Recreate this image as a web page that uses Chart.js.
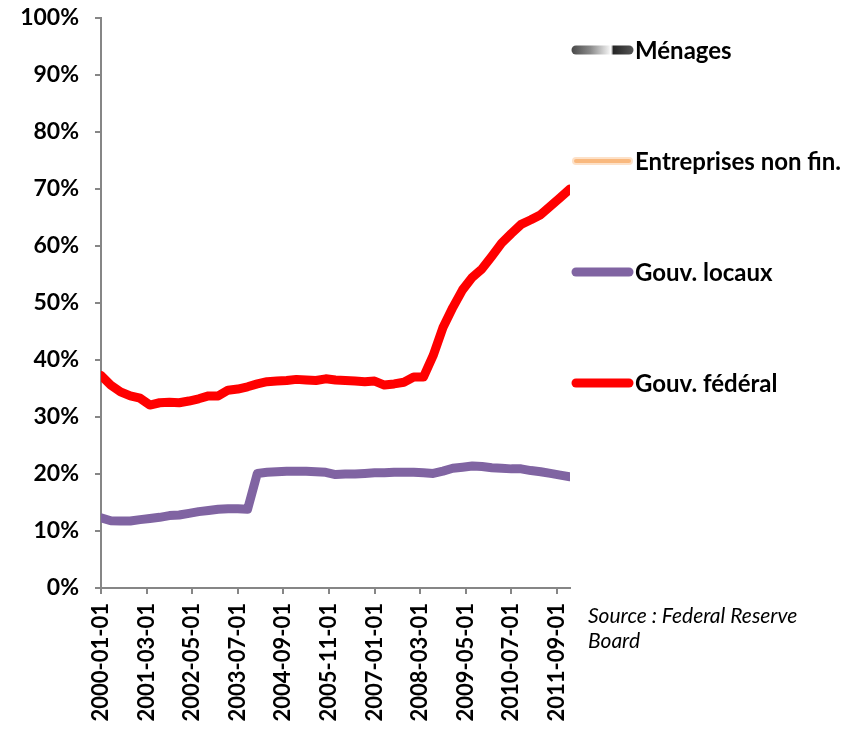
<!DOCTYPE html>
<html lang="fr">
<head>
    <meta charset="UTF-8">
    <title>Dette par secteur</title>
    <style>
        body {
            margin: 0;
            background-color: #fff;
        }
        .wrap {
            position: relative;
            width: 865px;
            height: 729px;
        }
        #source {
            position: absolute;
            left: 588px;
            top: 602px;
            font-family: Lato, sans-serif;
            font-style: italic;
            font-size: 21px;
            line-height: 25px;
            color: #000;
        }
    </style>
</head>
<body>
    <div class="wrap">
        <canvas id="chartCanvas" width="865" height="729"></canvas>
        <div id="source">Source : Federal Reserve<br>Board</div>
    </div>
    <script src="https://cdn.jsdelivr.net/npm/chart.js"></script>
    <script>
        // dates trimestrielles
        const quarters = [
            '2000-01-01', '2000-04-01', '2000-07-01', '2000-10-01',
            '2001-01-01', '2001-04-01', '2001-07-01', '2001-10-01',
            '2002-01-01', '2002-04-01', '2002-07-01', '2002-10-01',
            '2003-01-01', '2003-04-01', '2003-07-01', '2003-10-01',
            '2004-01-01', '2004-04-01', '2004-07-01', '2004-10-01',
            '2005-01-01', '2005-04-01', '2005-07-01', '2005-10-01',
            '2006-01-01', '2006-04-01', '2006-07-01', '2006-10-01',
            '2007-01-01', '2007-04-01', '2007-07-01', '2007-10-01',
            '2008-01-01', '2008-04-01', '2008-07-01', '2008-10-01',
            '2009-01-01', '2009-04-01', '2009-07-01', '2009-10-01',
            '2010-01-01', '2010-04-01', '2010-07-01', '2010-10-01',
            '2011-01-01', '2011-04-01', '2011-07-01', '2011-10-01',
            '2012-01-01'
        ];

        const tickLabels = [
            '2000-01-01', '2001-03-01', '2002-05-01', '2003-07-01',
            '2004-09-01', '2005-11-01', '2007-01-01', '2008-03-01',
            '2009-05-01', '2010-07-01', '2011-09-01'
        ];

        const menages = [];
        const entreprises = [];
        const gouvLocaux = [
            12.3, 11.8, 11.75, 11.75, 12.0, 12.2, 12.4, 12.7,
            12.8, 13.1, 13.4, 13.6, 13.8, 13.9, 13.9, 13.8,
            20.1, 20.3, 20.4, 20.5, 20.5, 20.5, 20.4, 20.3,
            19.9, 20.0, 20.0, 20.1, 20.2, 20.2, 20.3, 20.3,
            20.3, 20.2, 20.1, 20.5, 21.0, 21.2, 21.4, 21.3,
            21.1, 21.0, 20.9, 20.9, 20.6, 20.4, 20.1, 19.8,
            19.5
        ];
        const gouvFederal = [
            37.3, 35.6, 34.4, 33.7, 33.3, 32.1, 32.5, 32.6,
            32.5, 32.8, 33.2, 33.7, 33.7, 34.7, 34.9, 35.3,
            35.8, 36.2, 36.3, 36.4, 36.6, 36.5, 36.4, 36.7,
            36.5, 36.4, 36.3, 36.2, 36.3, 35.6, 35.8, 36.1,
            37.0, 37.0, 40.8, 45.7, 49.2, 52.3, 54.5, 56.0,
            58.2, 60.5, 62.2, 63.8, 64.6, 65.5, 67.0, 68.5,
            70.0
        ];

        function monthIndex(d) {
            const parts = d.split('-');
            return (parseInt(parts[0], 10) - 2000) * 12 + parseInt(parts[1], 10) - 1;
        }

        function toPoints(values) {
            return values.map((v, i) => ({ x: monthIndex(quarters[i]), y: v }));
        }

        // legende a droite, dessinee a la main
        const sideLegend = {
            id: 'sideLegend',
            afterDraw(chart, args, opts) {
                const ctx = chart.ctx;
                chart.data.datasets.forEach((ds, i) => {
                    const y = opts.top + i * opts.step;
                    const x0 = opts.x, x1 = opts.x + opts.lineLength;
                    ctx.save();
                    ctx.lineCap = 'round';
                    if (ds.legendStyle === 'gradient') {
                        const g = ctx.createLinearGradient(x0, 0, x1, 0);
                        g.addColorStop(0, '#4a4a4a');
                        g.addColorStop(0.3, '#8a8a8a');
                        g.addColorStop(0.6, '#ececec');
                        g.addColorStop(0.64, '#ffffff');
                        g.addColorStop(0.68, '#262626');
                        g.addColorStop(1, '#555555');
                        ctx.strokeStyle = g;
                        ctx.lineWidth = 9;
                        ctx.beginPath();
                        ctx.moveTo(x0 + 4, y);
                        ctx.lineTo(x1 - 4, y);
                        ctx.stroke();
                    } else if (ds.legendStyle === 'soft') {
                        ctx.strokeStyle = '#fde1c8';
                        ctx.lineWidth = 8;
                        ctx.beginPath();
                        ctx.moveTo(x0 + 4, y);
                        ctx.lineTo(x1 - 4, y);
                        ctx.stroke();
                        ctx.strokeStyle = '#f9b97f';
                        ctx.lineWidth = 4;
                        ctx.stroke();
                    } else {
                        ctx.strokeStyle = ds.borderColor;
                        ctx.lineWidth = ds.borderWidth;
                        ctx.beginPath();
                        ctx.moveTo(x0 + 4, y);
                        ctx.lineTo(x1 - 4, y);
                        ctx.stroke();
                    }
                    ctx.fillStyle = '#000';
                    ctx.font = 'bold 24px Lato';
                    ctx.textBaseline = 'middle';
                    ctx.textAlign = 'left';
                    ctx.fillText(ds.label, x1 + 2, y + 1);
                    ctx.restore();
                });
            }
        };

        Chart.defaults.font.family = 'Lato';
        Chart.defaults.font.weight = 'bold';
        Chart.defaults.color = '#000';

        const ctx = document.getElementById('chartCanvas').getContext('2d');
        const chart = new Chart(ctx, {
            type: 'line',
            data: {
                datasets: [
                    { label: 'Ménages', data: toPoints(menages), borderColor: '#4d4d4d', borderWidth: 9, legendStyle: 'gradient' },
                    { label: 'Entreprises non fin.', data: toPoints(entreprises), borderColor: '#f9b97f', borderWidth: 5, legendStyle: 'soft' },
                    { label: 'Gouv. locaux', data: toPoints(gouvLocaux), borderColor: '#8064a2', borderWidth: 9 },
                    { label: 'Gouv. fédéral', data: toPoints(gouvFederal), borderColor: '#ff0000', borderWidth: 9 }
                ]
            },
            options: {
                responsive: false,
                animation: false,
                layout: { padding: { top: 18, right: 295, left: 0, bottom: 0 } },
                elements: {
                    point: { radius: 0 },
                    line: { tension: 0, borderJoinStyle: 'round', borderCapStyle: 'round' }
                },
                plugins: {
                    legend: { display: false },
                    tooltip: { enabled: false },
                    sideLegend: { x: 572, lineLength: 61, top: 50, step: 111 }
                },
                scales: {
                    x: {
                        type: 'linear',
                        min: 0,
                        max: 144,
                        afterBuildTicks: s => {
                            s.ticks = tickLabels.map(t => ({ value: monthIndex(t) }));
                        },
                        afterFit: s => {
                            s.height = 141;
                            s.paddingLeft = 0;
                            s.paddingRight = 0;
                        },
                        ticks: {
                            autoSkip: false,
                            minRotation: 90,
                            maxRotation: 90,
                            padding: 9,
                            font: { size: 22, weight: 'bold' },
                            callback: (v, i) => tickLabels[i]
                        },
                        grid: { drawOnChartArea: false, tickLength: 6, color: '#868686', lineWidth: 2 },
                        border: { color: '#868686', width: 2 }
                    },
                    y: {
                        min: 0,
                        max: 100,
                        afterFit: s => {
                            s.width = 101;
                            s.paddingTop = 0;
                            s.paddingBottom = 0;
                        },
                        ticks: {
                            stepSize: 10,
                            padding: 16,
                            font: { size: 23, weight: 'bold' },
                            callback: v => v + '%'
                        },
                        grid: { drawOnChartArea: false, tickLength: 6, color: '#868686', lineWidth: 2 },
                        border: { color: '#868686', width: 2 }
                    }
                }
            },
            plugins: [sideLegend]
        });
    </script>
</body>
</html>
